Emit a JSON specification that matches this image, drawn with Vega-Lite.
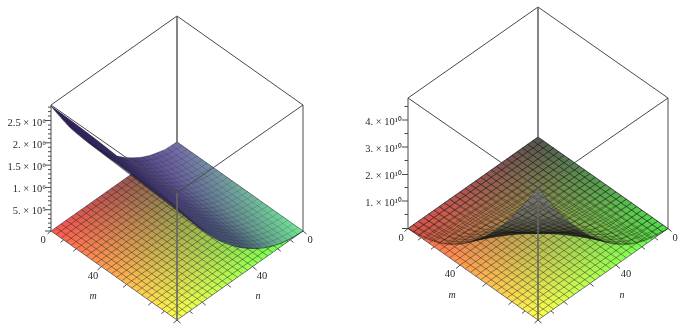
{"$schema":"https://vega.github.io/schema/vega-lite/v6.json","width":685,"height":332,"padding":0,"autosize":{"type":"fit","contains":"padding"},"background":"white","view":{"stroke":null},
"datasets":{
"fl":[{"p":1,"x":51,"y":231,"y2":231},{"p":1,"x":177,"y":142,"y2":320},{"p":1,"x":303,"y":231,"y2":231},{"p":2,"x":408,"y":228.5,"y2":228.5},{"p":2,"x":538,"y":137,"y2":320},{"p":2,"x":668,"y":228.5,"y2":228.5}],
"fr":[{"x":177,"y":142,"x2":51,"y2":231},{"x":182,"y":145.6,"x2":56,"y2":234.6},{"x":187.1,"y":149.1,"x2":61.1,"y2":238.1},{"x":192.1,"y":152.7,"x2":66.1,"y2":241.7},{"x":197.2,"y":156.2,"x2":71.2,"y2":245.2},{"x":202.2,"y":159.8,"x2":76.2,"y2":248.8},{"x":207.2,"y":163.4,"x2":81.2,"y2":252.4},{"x":212.3,"y":166.9,"x2":86.3,"y2":255.9},{"x":217.3,"y":170.5,"x2":91.3,"y2":259.5},{"x":222.4,"y":174,"x2":96.4,"y2":263},{"x":227.4,"y":177.6,"x2":101.4,"y2":266.6},{"x":232.4,"y":181.2,"x2":106.4,"y2":270.2},{"x":237.5,"y":184.7,"x2":111.5,"y2":273.7},{"x":242.5,"y":188.3,"x2":116.5,"y2":277.3},{"x":247.6,"y":191.8,"x2":121.6,"y2":280.8},{"x":252.6,"y":195.4,"x2":126.6,"y2":284.4},{"x":257.6,"y":199,"x2":131.6,"y2":288},{"x":262.7,"y":202.5,"x2":136.7,"y2":291.5},{"x":267.7,"y":206.1,"x2":141.7,"y2":295.1},{"x":272.8,"y":209.6,"x2":146.8,"y2":298.6},{"x":277.8,"y":213.2,"x2":151.8,"y2":302.2},{"x":282.8,"y":216.8,"x2":156.8,"y2":305.8},{"x":287.9,"y":220.3,"x2":161.9,"y2":309.3},{"x":292.9,"y":223.9,"x2":166.9,"y2":312.9},{"x":298,"y":227.4,"x2":172,"y2":316.4},{"x":303,"y":231,"x2":177,"y2":320},
{"x":177,"y":142,"x2":303,"y2":231},{"x":172,"y":145.6,"x2":298,"y2":234.6},{"x":166.9,"y":149.1,"x2":292.9,"y2":238.1},{"x":161.9,"y":152.7,"x2":287.9,"y2":241.7},{"x":156.8,"y":156.2,"x2":282.8,"y2":245.2},{"x":151.8,"y":159.8,"x2":277.8,"y2":248.8},{"x":146.8,"y":163.4,"x2":272.8,"y2":252.4},{"x":141.7,"y":166.9,"x2":267.7,"y2":255.9},{"x":136.7,"y":170.5,"x2":262.7,"y2":259.5},{"x":131.6,"y":174,"x2":257.6,"y2":263},{"x":126.6,"y":177.6,"x2":252.6,"y2":266.6},{"x":121.6,"y":181.2,"x2":247.6,"y2":270.2},{"x":116.5,"y":184.7,"x2":242.5,"y2":273.7},{"x":111.5,"y":188.3,"x2":237.5,"y2":277.3},{"x":106.4,"y":191.8,"x2":232.4,"y2":280.8},{"x":101.4,"y":195.4,"x2":227.4,"y2":284.4},{"x":96.4,"y":199,"x2":222.4,"y2":288},{"x":91.3,"y":202.5,"x2":217.3,"y2":291.5},{"x":86.3,"y":206.1,"x2":212.3,"y2":295.1},{"x":81.2,"y":209.6,"x2":207.2,"y2":298.6},{"x":76.2,"y":213.2,"x2":202.2,"y2":302.2},{"x":71.2,"y":216.8,"x2":197.2,"y2":305.8},{"x":66.1,"y":220.3,"x2":192.1,"y2":309.3},{"x":61.1,"y":223.9,"x2":187.1,"y2":312.9},{"x":56,"y":227.4,"x2":182,"y2":316.4},{"x":51,"y":231,"x2":177,"y2":320},
{"x":538,"y":137,"x2":408,"y2":228.5},{"x":543.2,"y":140.7,"x2":413.2,"y2":232.2},{"x":548.4,"y":144.3,"x2":418.4,"y2":235.8},{"x":553.6,"y":148,"x2":423.6,"y2":239.5},{"x":558.8,"y":151.6,"x2":428.8,"y2":243.1},{"x":564,"y":155.3,"x2":434,"y2":246.8},{"x":569.2,"y":159,"x2":439.2,"y2":250.5},{"x":574.4,"y":162.6,"x2":444.4,"y2":254.1},{"x":579.6,"y":166.3,"x2":449.6,"y2":257.8},{"x":584.8,"y":169.9,"x2":454.8,"y2":261.4},{"x":590,"y":173.6,"x2":460,"y2":265.1},{"x":595.2,"y":177.3,"x2":465.2,"y2":268.8},{"x":600.4,"y":180.9,"x2":470.4,"y2":272.4},{"x":605.6,"y":184.6,"x2":475.6,"y2":276.1},{"x":610.8,"y":188.2,"x2":480.8,"y2":279.7},{"x":616,"y":191.9,"x2":486,"y2":283.4},{"x":621.2,"y":195.6,"x2":491.2,"y2":287.1},{"x":626.4,"y":199.2,"x2":496.4,"y2":290.7},{"x":631.6,"y":202.9,"x2":501.6,"y2":294.4},{"x":636.8,"y":206.5,"x2":506.8,"y2":298},{"x":642,"y":210.2,"x2":512,"y2":301.7},{"x":647.2,"y":213.9,"x2":517.2,"y2":305.4},{"x":652.4,"y":217.5,"x2":522.4,"y2":309},{"x":657.6,"y":221.2,"x2":527.6,"y2":312.7},{"x":662.8,"y":224.8,"x2":532.8,"y2":316.3},{"x":668,"y":228.5,"x2":538,"y2":320},
{"x":538,"y":137,"x2":668,"y2":228.5},{"x":532.8,"y":140.7,"x2":662.8,"y2":232.2},{"x":527.6,"y":144.3,"x2":657.6,"y2":235.8},{"x":522.4,"y":148,"x2":652.4,"y2":239.5},{"x":517.2,"y":151.6,"x2":647.2,"y2":243.1},{"x":512,"y":155.3,"x2":642,"y2":246.8},{"x":506.8,"y":159,"x2":636.8,"y2":250.5},{"x":501.6,"y":162.6,"x2":631.6,"y2":254.1},{"x":496.4,"y":166.3,"x2":626.4,"y2":257.8},{"x":491.2,"y":169.9,"x2":621.2,"y2":261.4},{"x":486,"y":173.6,"x2":616,"y2":265.1},{"x":480.8,"y":177.3,"x2":610.8,"y2":268.8},{"x":475.6,"y":180.9,"x2":605.6,"y2":272.4},{"x":470.4,"y":184.6,"x2":600.4,"y2":276.1},{"x":465.2,"y":188.2,"x2":595.2,"y2":279.7},{"x":460,"y":191.9,"x2":590,"y2":283.4},{"x":454.8,"y":195.6,"x2":584.8,"y2":287.1},{"x":449.6,"y":199.2,"x2":579.6,"y2":290.7},{"x":444.4,"y":202.9,"x2":574.4,"y2":294.4},{"x":439.2,"y":206.5,"x2":569.2,"y2":298},{"x":434,"y":210.2,"x2":564,"y2":301.7},{"x":428.8,"y":213.9,"x2":558.8,"y2":305.4},{"x":423.6,"y":217.5,"x2":553.6,"y2":309},{"x":418.4,"y":221.2,"x2":548.4,"y2":312.7},{"x":413.2,"y":224.8,"x2":543.2,"y2":316.3},{"x":408,"y":228.5,"x2":538,"y2":320}],
"s1":[{"x":51,"y":106,"y2":106},{"x":70,"y":119.7,"y2":127.5},{"x":90,"y":134.8,"y2":143.7},{"x":100,"y":142.5,"y2":151},{"x":108,"y":148.7,"y2":157},{"x":117,"y":156,"y2":163},{"x":125,"y":157.4,"y2":169},{"x":132,"y":157.8,"y2":174},{"x":141,"y":157.2,"y2":181},{"x":150,"y":155.3,"y2":188},{"x":165,"y":149.4,"y2":199.3},{"x":177,"y":142,"y2":208},{"x":200,"y":158.2,"y2":228.6},{"x":220,"y":172.4,"y2":240.8},{"x":240,"y":186.5,"y2":247.4},{"x":253,"y":195.7,"y2":248.6},{"x":270,"y":207.7,"y2":246.6},{"x":290,"y":221.8,"y2":239},{"x":303,"y":231,"y2":231}],
"s1r":[{"x":177,"y":142,"x2":303,"y2":231},{"x":172,"y":145.4,"x2":298,"y2":234.4},{"x":166.9,"y":148.3,"x2":292.9,"y2":237.4},{"x":161.9,"y":150.9,"x2":287.9,"y2":240.1},{"x":156.8,"y":153,"x2":282.8,"y2":242.4},{"x":151.8,"y":154.8,"x2":277.8,"y2":244.3},{"x":146.8,"y":156.2,"x2":272.8,"y2":245.9},{"x":141.7,"y":157.1,"x2":267.7,"y2":247.1},{"x":136.7,"y":157.7,"x2":262.7,"y2":248},{"x":131.6,"y":157.8,"x2":257.6,"y2":248.5},{"x":126.6,"y":157.6,"x2":252.6,"y2":248.6},{"x":121.6,"y":157,"x2":247.6,"y2":248.4},{"x":116.5,"y":155.9,"x2":242.5,"y2":247.8},{"x":111.5,"y":154.5,"x2":237.5,"y2":246.9},{"x":106.4,"y":152.6,"x2":232.4,"y2":245.6},{"x":101.4,"y":150.4,"x2":227.4,"y2":243.9},{"x":96.4,"y":147.8,"x2":222.4,"y2":241.9},{"x":91.3,"y":144.7,"x2":217.3,"y2":239.5},{"x":86.3,"y":141.3,"x2":212.3,"y2":236.8},{"x":81.2,"y":137.4,"x2":207.2,"y2":233.7},{"x":76.2,"y":133.2,"x2":202.2,"y2":230.2},{"x":71.2,"y":128.6,"x2":197.2,"y2":226.4},{"x":66.1,"y":123.5,"x2":192.1,"y2":222.2},{"x":61.1,"y":118.1,"x2":187.1,"y2":217.7},{"x":56,"y":112.2,"x2":182,"y2":212.8}],
"s1l":[{"g":"e","x":51,"y":106},{"g":"e","x":100,"y":142.5},{"g":"e","x":132,"y":168.3},{"g":"e","x":177,"y":207.5},
{"g":0,"x":177,"y":142},{"g":0,"x":151.8,"y":154.8},{"g":0,"x":132.9,"y":157.8},{"g":0,"x":101.4,"y":150.4},{"g":0,"x":51,"y":106},
{"g":1,"x":182,"y":145.6},{"g":1,"x":156.8,"y":158.4},{"g":1,"x":137.9,"y":161.4},{"g":1,"x":106.4,"y":154.1},{"g":1,"x":56,"y":109.6},
{"g":2,"x":187.1,"y":149.1},{"g":2,"x":161.9,"y":162},{"g":2,"x":143,"y":165},{"g":2,"x":111.5,"y":157.9},{"g":2,"x":61.1,"y":113.2},
{"g":3,"x":192.1,"y":152.7},{"g":3,"x":166.9,"y":165.5},{"g":3,"x":148,"y":168.7},{"g":3,"x":116.5,"y":161.6},{"g":3,"x":66.1,"y":116.9},
{"g":4,"x":197.2,"y":156.2},{"g":4,"x":172,"y":169.1},{"g":4,"x":153.1,"y":172.3},{"g":4,"x":121.6,"y":165.4},{"g":4,"x":71.2,"y":120.6},
{"g":5,"x":202.2,"y":159.8},{"g":5,"x":177,"y":172.7},{"g":5,"x":158.1,"y":175.9},{"g":5,"x":126.6,"y":169.1},{"g":5,"x":76.2,"y":124.3},
{"g":6,"x":207.2,"y":163.4},{"g":6,"x":182,"y":176.3},{"g":6,"x":163.1,"y":179.5},{"g":6,"x":131.6,"y":172.8},{"g":6,"x":81.2,"y":128.1},
{"g":7,"x":212.3,"y":166.9},{"g":7,"x":187.1,"y":179.9},{"g":7,"x":168.2,"y":183.1},{"g":7,"x":136.7,"y":176.6},{"g":7,"x":86.3,"y":131.9},
{"g":8,"x":217.3,"y":170.5},{"g":8,"x":192.1,"y":183.4},{"g":8,"x":173.2,"y":186.8},{"g":8,"x":141.7,"y":180.3},{"g":8,"x":91.3,"y":135.8},
{"g":9,"x":222.4,"y":174},{"g":9,"x":197.2,"y":187},{"g":9,"x":178.3,"y":190.4},{"g":9,"x":146.8,"y":184.1},{"g":9,"x":96.4,"y":139.7},
{"g":10,"x":227.4,"y":177.6},{"g":10,"x":202.2,"y":190.6},{"g":10,"x":183.3,"y":194},{"g":10,"x":151.8,"y":187.8},{"g":10,"x":101.4,"y":143.6},
{"g":11,"x":232.4,"y":181.2},{"g":11,"x":207.2,"y":194.2},{"g":11,"x":188.3,"y":197.6},{"g":11,"x":156.8,"y":191.5},{"g":11,"x":106.4,"y":147.6},
{"g":12,"x":237.5,"y":184.7},{"g":12,"x":212.3,"y":197.8},{"g":12,"x":193.4,"y":201.2},{"g":12,"x":161.9,"y":195.3},{"g":12,"x":111.5,"y":151.6},
{"g":13,"x":242.5,"y":188.3},{"g":13,"x":217.3,"y":201.3},{"g":13,"x":198.4,"y":204.9},{"g":13,"x":166.9,"y":199},{"g":13,"x":116.5,"y":155.7},
{"g":14,"x":247.6,"y":191.8},{"g":14,"x":222.4,"y":204.9},{"g":14,"x":203.5,"y":208.5},{"g":14,"x":172,"y":202.8},{"g":14,"x":121.6,"y":159.8},
{"g":15,"x":252.6,"y":195.4},{"g":15,"x":227.4,"y":208.5},{"g":15,"x":208.5,"y":212.1},{"g":15,"x":177,"y":206.5},{"g":15,"x":126.6,"y":163.9},
{"g":16,"x":257.6,"y":199},{"g":16,"x":232.4,"y":212.1},{"g":16,"x":213.5,"y":215.7},{"g":16,"x":182,"y":210.2},{"g":16,"x":131.6,"y":168.1},
{"g":17,"x":262.7,"y":202.5},{"g":17,"x":237.5,"y":215.7},{"g":17,"x":218.6,"y":219.3},{"g":17,"x":187.1,"y":214},{"g":17,"x":136.7,"y":172.3},
{"g":18,"x":267.7,"y":206.1},{"g":18,"x":242.5,"y":219.2},{"g":18,"x":223.6,"y":223},{"g":18,"x":192.1,"y":217.7},{"g":18,"x":141.7,"y":176.6},
{"g":19,"x":272.8,"y":209.6},{"g":19,"x":247.6,"y":222.8},{"g":19,"x":228.7,"y":226.6},{"g":19,"x":197.2,"y":221.5},{"g":19,"x":146.8,"y":180.9},
{"g":20,"x":277.8,"y":213.2},{"g":20,"x":252.6,"y":226.4},{"g":20,"x":233.7,"y":230.2},{"g":20,"x":202.2,"y":225.2},{"g":20,"x":151.8,"y":185.2},
{"g":21,"x":282.8,"y":216.8},{"g":21,"x":257.6,"y":230},{"g":21,"x":238.7,"y":233.8},{"g":21,"x":207.2,"y":228.9},{"g":21,"x":156.8,"y":189.6},
{"g":22,"x":287.9,"y":220.3},{"g":22,"x":262.7,"y":233.6},{"g":22,"x":243.8,"y":237.4},{"g":22,"x":212.3,"y":232.7},{"g":22,"x":161.9,"y":194},
{"g":23,"x":292.9,"y":223.9},{"g":23,"x":267.7,"y":237.1},{"g":23,"x":248.8,"y":241.1},{"g":23,"x":217.3,"y":236.4},{"g":23,"x":166.9,"y":198.5},
{"g":24,"x":298,"y":227.4},{"g":24,"x":272.8,"y":240.7},{"g":24,"x":253.9,"y":244.7},{"g":24,"x":222.4,"y":240.2},{"g":24,"x":172,"y":203},
{"g":25,"x":303,"y":231},{"g":25,"x":277.8,"y":244.3},{"g":25,"x":258.9,"y":248.3},{"g":25,"x":227.4,"y":243.9},{"g":25,"x":177,"y":207.5}],
"s2":[{"x":408,"y":228.5,"y2":228.5},{"x":421,"y":219.4,"y2":236.3},{"x":434,"y":210.2,"y2":241.5},{"x":447,"y":201,"y2":244.1},{"x":460,"y":191.9,"y2":244},{"x":473,"y":182.7,"y2":241.4},{"x":486,"y":173.6,"y2":238.5},{"x":499,"y":164.4,"y2":236.3},{"x":512,"y":155.3,"y2":234.7},{"x":525,"y":146.1,"y2":233.7},{"x":538,"y":137,"y2":233.4},{"x":551,"y":146.1,"y2":233.7},{"x":564,"y":155.3,"y2":234.7},{"x":577,"y":164.4,"y2":236.3},{"x":590,"y":173.6,"y2":238.5},{"x":603,"y":182.7,"y2":241.4},{"x":616,"y":191.9,"y2":244},{"x":629,"y":201,"y2":244.1},{"x":642,"y":210.2,"y2":241.5},{"x":655,"y":219.4,"y2":236.3},{"x":668,"y":228.5,"y2":228.5}],
"cusp":[{"x":473,"y":241,"y2":241.4},{"x":486,"y":235.9,"y2":238.5},{"x":499,"y":227.9,"y2":236.3},{"x":512,"y":217.2,"y2":234.7},{"x":525,"y":204,"y2":233.7},{"x":538,"y":188,"y2":233.4},{"x":551,"y":204,"y2":233.7},{"x":564,"y":217.2,"y2":234.7},{"x":577,"y":227.9,"y2":236.3},{"x":590,"y":235.9,"y2":238.5},{"x":603,"y":241,"y2":241.4}],
"s2l":[{"g":"a0","x":538,"y":137},{"g":"a0","x":668,"y":228.5},{"g":"b0","x":538,"y":137},{"g":"b0","x":408,"y":228.5},
{"g":"a1","x":532.8,"y":140.7},{"g":"a1","x":578.3,"y":172.7},{"g":"a1","x":623.8,"y":204.6},{"g":"a1","x":662.8,"y":232},
{"g":"a2","x":527.6,"y":144.3},{"g":"a2","x":573.1,"y":176.2},{"g":"a2","x":618.6,"y":207.9},{"g":"a2","x":657.6,"y":235},
{"g":"a3","x":522.4,"y":148},{"g":"a3","x":567.9,"y":179.8},{"g":"a3","x":613.4,"y":211.1},{"g":"a3","x":652.4,"y":237.6},
{"g":"a4","x":517.2,"y":151.6},{"g":"a4","x":562.7,"y":183.2},{"g":"a4","x":608.2,"y":214},{"g":"a4","x":647.2,"y":239.7},
{"g":"a5","x":512,"y":155.3},{"g":"a5","x":557.5,"y":186.7},{"g":"a5","x":603,"y":216.7},{"g":"a5","x":642,"y":241.5},
{"g":"a6","x":506.8,"y":159},{"g":"a6","x":552.3,"y":190.1},{"g":"a6","x":597.8,"y":219.3},{"g":"a6","x":636.8,"y":242.9},
{"g":"a7","x":501.6,"y":162.6},{"g":"a7","x":547.1,"y":193.4},{"g":"a7","x":592.6,"y":221.6},{"g":"a7","x":631.6,"y":243.8},
{"g":"a8","x":496.4,"y":166.3},{"g":"a8","x":541.9,"y":196.6},{"g":"a8","x":587.4,"y":223.7},{"g":"a8","x":626.4,"y":244.3},
{"g":"a9","x":491.2,"y":169.9},{"g":"a9","x":536.7,"y":199.9},{"g":"a9","x":582.2,"y":225.6},{"g":"a9","x":621.2,"y":244.3},
{"g":"a10","x":486,"y":173.6},{"g":"a10","x":531.5,"y":203},{"g":"a10","x":577,"y":227.3},{"g":"a10","x":616,"y":244},
{"g":"a11","x":480.8,"y":177.3},{"g":"a11","x":526.3,"y":206.2},{"g":"a11","x":571.8,"y":228.8},{"g":"a11","x":610.8,"y":243.2},
{"g":"a12","x":475.6,"y":180.9},{"g":"a12","x":521.1,"y":209.2},{"g":"a12","x":566.6,"y":230.1},{"g":"a12","x":605.6,"y":242},
{"g":"a13","x":470.4,"y":184.6},{"g":"a13","x":515.9,"y":212.2},{"g":"a13","x":561.4,"y":231.1},{"g":"a13","x":600.4,"y":240.4},
{"g":"a14","x":465.2,"y":188.2},{"g":"a14","x":510.7,"y":215.2},{"g":"a14","x":556.2,"y":232},{"g":"a14","x":595.2,"y":238.3},
{"g":"a15","x":460,"y":191.9},{"g":"a15","x":505.5,"y":218.1},{"g":"a15","x":551,"y":232.7},{"g":"a15","x":590,"y":235.9},
{"g":"a16","x":454.8,"y":195.6},{"g":"a16","x":500.3,"y":221},{"g":"a16","x":545.8,"y":233.1},{"g":"a16","x":584.8,"y":233},
{"g":"a17","x":449.6,"y":199.2},{"g":"a17","x":495.1,"y":223.7},{"g":"a17","x":540.6,"y":233.4},{"g":"a17","x":579.6,"y":229.7},
{"g":"a18","x":444.4,"y":202.9},{"g":"a18","x":489.9,"y":226.5},{"g":"a18","x":535.4,"y":233.4},{"g":"a18","x":574.4,"y":226},
{"g":"a19","x":439.2,"y":206.5},{"g":"a19","x":484.7,"y":229.3},{"g":"a19","x":530.2,"y":233.2},{"g":"a19","x":569.2,"y":221.8},
{"g":"a20","x":434,"y":210.2},{"g":"a20","x":479.5,"y":231.9},{"g":"a20","x":525,"y":232.9},{"g":"a20","x":564,"y":217.2},
{"g":"a21","x":428.8,"y":213.9},{"g":"a21","x":474.3,"y":234.5},{"g":"a21","x":519.8,"y":232.3},{"g":"a21","x":558.8,"y":212.3},
{"g":"a22","x":423.6,"y":217.5},{"g":"a22","x":469.1,"y":237},{"g":"a22","x":514.6,"y":231.5},{"g":"a22","x":553.6,"y":206.8},
{"g":"a23","x":418.4,"y":221.2},{"g":"a23","x":463.9,"y":239.5},{"g":"a23","x":509.4,"y":230.4},{"g":"a23","x":548.4,"y":201},
{"g":"a24","x":413.2,"y":224.8},{"g":"a24","x":458.7,"y":241.9},{"g":"a24","x":504.2,"y":229.3},{"g":"a24","x":543.2,"y":194.6},
{"g":"a25","x":408,"y":228.5},{"g":"a25","x":453.5,"y":244.3},{"g":"a25","x":499,"y":227.9},{"g":"a25","x":538,"y":188},
{"g":"b1","x":543.2,"y":140.7},{"g":"b1","x":497.7,"y":172.7},{"g":"b1","x":452.2,"y":204.6},{"g":"b1","x":413.2,"y":232},
{"g":"b2","x":548.4,"y":144.3},{"g":"b2","x":502.9,"y":176.2},{"g":"b2","x":457.4,"y":207.9},{"g":"b2","x":418.4,"y":235},
{"g":"b3","x":553.6,"y":148},{"g":"b3","x":508.1,"y":179.8},{"g":"b3","x":462.6,"y":211.1},{"g":"b3","x":423.6,"y":237.6},
{"g":"b4","x":558.8,"y":151.6},{"g":"b4","x":513.3,"y":183.2},{"g":"b4","x":467.8,"y":214},{"g":"b4","x":428.8,"y":239.7},
{"g":"b5","x":564,"y":155.3},{"g":"b5","x":518.5,"y":186.7},{"g":"b5","x":473,"y":216.7},{"g":"b5","x":434,"y":241.5},
{"g":"b6","x":569.2,"y":159},{"g":"b6","x":523.7,"y":190.1},{"g":"b6","x":478.2,"y":219.3},{"g":"b6","x":439.2,"y":242.9},
{"g":"b7","x":574.4,"y":162.6},{"g":"b7","x":528.9,"y":193.4},{"g":"b7","x":483.4,"y":221.6},{"g":"b7","x":444.4,"y":243.8},
{"g":"b8","x":579.6,"y":166.3},{"g":"b8","x":534.1,"y":196.6},{"g":"b8","x":488.6,"y":223.7},{"g":"b8","x":449.6,"y":244.3},
{"g":"b9","x":584.8,"y":169.9},{"g":"b9","x":539.3,"y":199.9},{"g":"b9","x":493.8,"y":225.6},{"g":"b9","x":454.8,"y":244.3},
{"g":"b10","x":590,"y":173.6},{"g":"b10","x":544.5,"y":203},{"g":"b10","x":499,"y":227.3},{"g":"b10","x":460,"y":244},
{"g":"b11","x":595.2,"y":177.3},{"g":"b11","x":549.7,"y":206.2},{"g":"b11","x":504.2,"y":228.8},{"g":"b11","x":465.2,"y":243.2},
{"g":"b12","x":600.4,"y":180.9},{"g":"b12","x":554.9,"y":209.2},{"g":"b12","x":509.4,"y":230.1},{"g":"b12","x":470.4,"y":242},
{"g":"b13","x":605.6,"y":184.6},{"g":"b13","x":560.1,"y":212.2},{"g":"b13","x":514.6,"y":231.1},{"g":"b13","x":475.6,"y":240.4},
{"g":"b14","x":610.8,"y":188.2},{"g":"b14","x":565.3,"y":215.2},{"g":"b14","x":519.8,"y":232},{"g":"b14","x":480.8,"y":238.3},
{"g":"b15","x":616,"y":191.9},{"g":"b15","x":570.5,"y":218.1},{"g":"b15","x":525,"y":232.7},{"g":"b15","x":486,"y":235.9},
{"g":"b16","x":621.2,"y":195.6},{"g":"b16","x":575.7,"y":221},{"g":"b16","x":530.2,"y":233.1},{"g":"b16","x":491.2,"y":233},
{"g":"b17","x":626.4,"y":199.2},{"g":"b17","x":580.9,"y":223.7},{"g":"b17","x":535.4,"y":233.4},{"g":"b17","x":496.4,"y":229.7},
{"g":"b18","x":631.6,"y":202.9},{"g":"b18","x":586.1,"y":226.5},{"g":"b18","x":540.6,"y":233.4},{"g":"b18","x":501.6,"y":226},
{"g":"b19","x":636.8,"y":206.5},{"g":"b19","x":591.3,"y":229.3},{"g":"b19","x":545.8,"y":233.2},{"g":"b19","x":506.8,"y":221.8},
{"g":"b20","x":642,"y":210.2},{"g":"b20","x":596.5,"y":231.9},{"g":"b20","x":551,"y":232.9},{"g":"b20","x":512,"y":217.2},
{"g":"b21","x":647.2,"y":213.9},{"g":"b21","x":601.7,"y":234.5},{"g":"b21","x":556.2,"y":232.3},{"g":"b21","x":517.2,"y":212.3},
{"g":"b22","x":652.4,"y":217.5},{"g":"b22","x":606.9,"y":237},{"g":"b22","x":561.4,"y":231.5},{"g":"b22","x":522.4,"y":206.8},
{"g":"b23","x":657.6,"y":221.2},{"g":"b23","x":612.1,"y":239.5},{"g":"b23","x":566.6,"y":230.4},{"g":"b23","x":527.6,"y":201},
{"g":"b24","x":662.8,"y":224.8},{"g":"b24","x":617.3,"y":241.9},{"g":"b24","x":571.8,"y":229.3},{"g":"b24","x":532.8,"y":194.6},
{"g":"b25","x":668,"y":228.5},{"g":"b25","x":622.5,"y":244.3},{"g":"b25","x":577,"y":227.9},{"g":"b25","x":538,"y":188}],
"box":[{"x":177,"y":16,"x2":51,"y2":105},{"x":177,"y":16,"x2":303,"y2":105},{"x":51,"y":105,"x2":51,"y2":231},{"x":303,"y":105,"x2":303,"y2":231},{"x":51,"y":105,"x2":177,"y2":193},{"x":303,"y":105,"x2":177,"y2":193},{"x":538,"y":7,"x2":408,"y2":98},{"x":538,"y":7,"x2":668,"y2":98},{"x":408,"y":98,"x2":408,"y2":228.5},{"x":668,"y":98,"x2":668,"y2":228.5},{"x":408,"y":98,"x2":538,"y2":188},{"x":668,"y":98,"x2":538,"y2":188},
{"x":51,"y":231,"x2":45,"y2":231},{"x":51,"y":231,"x2":47.5,"y2":234},{"x":303,"y":231,"x2":306.5,"y2":234},{"x":177,"y":320,"x2":173.5,"y2":323},{"x":177,"y":320,"x2":180.5,"y2":323},
{"x":63.6,"y":239.9,"x2":60.6,"y2":242.4},{"x":76.2,"y":248.8,"x2":73.2,"y2":251.3},{"x":101.4,"y":266.6,"x2":97.4,"y2":270},{"x":126.6,"y":284.4,"x2":123.1,"y2":287.4},{"x":151.8,"y":302.2,"x2":148.3,"y2":305.2},{"x":164.4,"y":311.1,"x2":161.4,"y2":313.6},
{"x":290.4,"y":239.9,"x2":293.4,"y2":242.4},{"x":277.8,"y":248.8,"x2":280.8,"y2":251.3},{"x":252.6,"y":266.6,"x2":256.6,"y2":270},{"x":227.4,"y":284.4,"x2":230.9,"y2":287.4},{"x":202.2,"y":302.2,"x2":205.7,"y2":305.2},{"x":189.6,"y":311.1,"x2":192.6,"y2":313.6},
{"x":48,"y":227.5,"x2":51,"y2":227.5},{"x":48,"y":223.1,"x2":51,"y2":223.1},{"x":48,"y":218.6,"x2":51,"y2":218.6},{"x":48,"y":214.2,"x2":51,"y2":214.2},{"x":45,"y":209.7,"x2":51,"y2":209.7},{"x":48,"y":205.2,"x2":51,"y2":205.2},{"x":48,"y":200.8,"x2":51,"y2":200.8},{"x":48,"y":196.3,"x2":51,"y2":196.3},{"x":48,"y":191.9,"x2":51,"y2":191.9},{"x":45,"y":187.4,"x2":51,"y2":187.4},{"x":48,"y":182.9,"x2":51,"y2":182.9},{"x":48,"y":178.5,"x2":51,"y2":178.5},{"x":48,"y":174,"x2":51,"y2":174},{"x":48,"y":169.6,"x2":51,"y2":169.6},{"x":45,"y":165.1,"x2":51,"y2":165.1},{"x":48,"y":160.6,"x2":51,"y2":160.6},{"x":48,"y":156.2,"x2":51,"y2":156.2},{"x":48,"y":151.7,"x2":51,"y2":151.7},{"x":48,"y":147.3,"x2":51,"y2":147.3},{"x":45,"y":142.8,"x2":51,"y2":142.8},{"x":48,"y":138.3,"x2":51,"y2":138.3},{"x":48,"y":133.9,"x2":51,"y2":133.9},{"x":48,"y":129.4,"x2":51,"y2":129.4},{"x":48,"y":125,"x2":51,"y2":125},{"x":45,"y":120.5,"x2":51,"y2":120.5},{"x":48,"y":116,"x2":51,"y2":116},{"x":48,"y":111.6,"x2":51,"y2":111.6},{"x":48,"y":107.1,"x2":51,"y2":107.1},
{"x":402,"y":228.5,"x2":408,"y2":228.5},{"x":408,"y":228.5,"x2":404.5,"y2":231.5},{"x":668,"y":228.5,"x2":671.5,"y2":231.5},{"x":538,"y":320,"x2":534.5,"y2":323},{"x":538,"y":320,"x2":541.5,"y2":323},
{"x":421,"y":237.7,"x2":418,"y2":240.2},{"x":434,"y":246.8,"x2":431,"y2":249.3},{"x":460,"y":265.1,"x2":456,"y2":268.5},{"x":486,"y":283.4,"x2":482.5,"y2":286.4},{"x":512,"y":301.7,"x2":508.5,"y2":304.7},{"x":525,"y":310.9,"x2":522,"y2":313.4},
{"x":655,"y":237.7,"x2":658,"y2":240.2},{"x":642,"y":246.8,"x2":645,"y2":249.3},{"x":616,"y":265.1,"x2":620,"y2":268.5},{"x":590,"y":283.4,"x2":593.5,"y2":286.4},{"x":564,"y":301.7,"x2":567.5,"y2":304.7},{"x":551,"y":310.9,"x2":554,"y2":313.4},
{"x":402,"y":120,"x2":408,"y2":120},{"x":402,"y":147,"x2":408,"y2":147},{"x":402,"y":174.5,"x2":408,"y2":174.5},{"x":402,"y":201,"x2":408,"y2":201},{"x":404.5,"y":106.5,"x2":408,"y2":106.5},{"x":404.5,"y":133.5,"x2":408,"y2":133.5},{"x":404.5,"y":160.5,"x2":408,"y2":160.5},{"x":404.5,"y":187.5,"x2":408,"y2":187.5},{"x":404.5,"y":214.5,"x2":408,"y2":214.5}],
"vert":[{"x":177,"y":16,"x2":177,"y2":142},{"x":177,"y":193,"x2":177,"y2":320},{"x":538,"y":7,"x2":538,"y2":137},{"x":538,"y":188,"x2":538,"y2":320}],
"zlab":[{"t":"2.5 × 10⁶","x":46,"y":122.5},{"t":"2. × 10⁶","x":46,"y":144.5},{"t":"1.5 × 10⁶","x":46,"y":167},{"t":"1. × 10⁶","x":46,"y":189},{"t":"5. × 10⁵","x":46,"y":211},{"t":"4. × 10¹⁰","x":402,"y":121.5},{"t":"3. × 10¹⁰","x":402,"y":148.5},{"t":"2. × 10¹⁰","x":402,"y":176},{"t":"1. × 10¹⁰","x":402,"y":203}],
"tlab":[{"t":"0","x":43,"y":240},{"t":"0","x":310,"y":240},{"t":"40","x":93,"y":276},{"t":"40","x":262,"y":276},{"t":"0","x":401,"y":238},{"t":"0","x":675,"y":238},{"t":"40","x":450,"y":274},{"t":"40","x":626,"y":274}],
"alab":[{"t":"m","x":93,"y":296},{"t":"n","x":258,"y":296},{"t":"m","x":452,"y":295},{"t":"n","x":622,"y":295}]
},
"encoding":{"x":{"field":"x","type":"quantitative","axis":null,"scale":{"domain":[0,685],"nice":false,"zero":false}},"y":{"field":"y","type":"quantitative","axis":null,"scale":{"domain":[332,0],"nice":false,"zero":false}}},
"layer":[
{"data":{"name":"fl"},"mark":{"type":"area","orient":"vertical","fill":"rgb(0,0,80)"},"encoding":{"y2":{"field":"y2"},"detail":{"field":"p"}}},
{"data":{"name":"fl"},"mark":{"type":"area","orient":"vertical","blend":"screen","fill":{"gradient":"linear","x1":0.75,"y1":0.25,"x2":0.25,"y2":0.75,"stops":[{"offset":0,"color":"rgb(85,0,0)"},{"offset":1,"color":"rgb(255,0,0)"}]}},"encoding":{"y2":{"field":"y2"},"detail":{"field":"p"}}},
{"data":{"name":"fl"},"mark":{"type":"area","orient":"vertical","blend":"screen","fill":{"gradient":"linear","x1":0.25,"y1":0.25,"x2":0.75,"y2":0.75,"stops":[{"offset":0,"color":"rgb(0,85,0)"},{"offset":1,"color":"rgb(0,255,0)"}]}},"encoding":{"y2":{"field":"y2"},"detail":{"field":"p"}}},
{"data":{"name":"fr"},"mark":{"type":"rule","stroke":"#222222","strokeWidth":1,"opacity":0.45},"encoding":{"x2":{"field":"x2"},"y2":{"field":"y2"}}},
{"data":{"name":"s1"},"mark":{"type":"area","orient":"vertical","fill":{"gradient":"linear","x1":0,"y1":0,"x2":1,"y2":0,"stops":[{"offset":0,"color":"rgb(58,25,105)"},{"offset":0.5,"color":"rgb(115,110,165)"},{"offset":1,"color":"rgb(110,228,145)"}]}},"encoding":{"y2":{"field":"y2"}}},
{"data":{"name":"s1"},"mark":{"type":"area","orient":"vertical","fill":{"gradient":"linear","x1":0.5,"y1":0.252,"x2":0.284,"y2":0.425,"stops":[{"offset":0.1,"color":"rgba(50,35,90,0)"},{"offset":0.55,"color":"rgba(50,35,90,0.2)"},{"offset":0.9,"color":"rgba(40,30,80,0.55)"}]}},"encoding":{"y2":{"field":"y2"}}},
{"data":{"name":"s1r"},"mark":{"type":"rule","stroke":"#20203a","strokeWidth":0.7,"opacity":0.28},"encoding":{"x2":{"field":"x2"},"y2":{"field":"y2"}}},
{"data":{"name":"s1l"},"mark":{"type":"line","interpolate":"monotone","stroke":"#20203a","strokeWidth":0.7,"opacity":0.28},"encoding":{"detail":{"field":"g"}}},
{"data":{"name":"s2"},"mark":{"type":"area","orient":"vertical","fill":{"gradient":"linear","x1":0,"y1":0,"x2":0,"y2":1,"stops":[{"offset":0,"color":"rgba(60,60,60,0.05)"},{"offset":0.7,"color":"rgba(60,60,60,0.1)"},{"offset":1,"color":"rgba(30,30,20,0.2)"}]}},"encoding":{"y2":{"field":"y2"}}},
{"data":{"name":"cusp"},"mark":{"type":"area","orient":"vertical","fill":{"gradient":"linear","x1":0,"y1":0,"x2":0,"y2":1,"stops":[{"offset":0,"color":"rgba(125,125,125,0.95)"},{"offset":0.55,"color":"rgba(105,105,95,0.92)"},{"offset":1,"color":"rgba(50,50,35,0.9)"}]}},"encoding":{"y2":{"field":"y2"}}},
{"data":{"name":"s2l"},"mark":{"type":"line","interpolate":"monotone","stroke":"#111111","strokeWidth":0.8,"opacity":0.42},"encoding":{"detail":{"field":"g"}}},
{"data":{"name":"s2"},"mark":{"type":"line","interpolate":"monotone","stroke":"#1a1a10","strokeWidth":0.9,"opacity":0.45},"encoding":{"y":{"field":"y2","type":"quantitative"}}},
{"data":{"name":"s1"},"mark":{"type":"line","interpolate":"monotone","stroke":"#1c1440","strokeWidth":0.9,"opacity":0.6},"encoding":{"y":{"field":"y2","type":"quantitative"}}},
{"data":{"name":"box"},"mark":{"type":"rule","stroke":"#4a4a4a","strokeWidth":1},"encoding":{"x2":{"field":"x2"},"y2":{"field":"y2"}}},
{"data":{"name":"vert"},"mark":{"type":"rule","stroke":"#666666","strokeWidth":1.6},"encoding":{"x2":{"field":"x2"},"y2":{"field":"y2"}}},
{"data":{"name":"zlab"},"mark":{"type":"text","font":"Liberation Serif","fontSize":10.5,"align":"right","baseline":"middle","fill":"#2a2a2a"},"encoding":{"text":{"field":"t"}}},
{"data":{"name":"tlab"},"mark":{"type":"text","font":"Liberation Serif","fontSize":10.5,"align":"center","baseline":"middle","fill":"#2a2a2a"},"encoding":{"text":{"field":"t"}}},
{"data":{"name":"alab"},"mark":{"type":"text","font":"Liberation Serif","fontStyle":"italic","fontSize":10,"align":"center","baseline":"middle","fill":"#2a2a2a"},"encoding":{"text":{"field":"t"}}}
]}
